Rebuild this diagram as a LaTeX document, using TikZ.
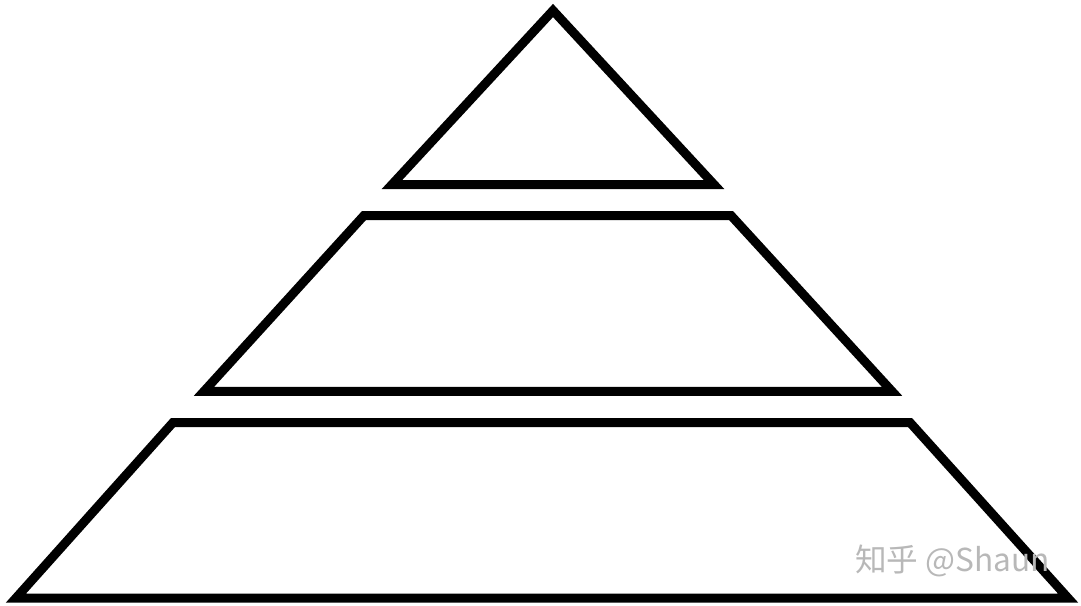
\documentclass[tikz,border=0pt]{standalone}
\usepackage{fontspec}
\newfontfamily\cjk{Noto Sans CJK SC}

\begin{document}
\begin{tikzpicture}[x=0.02cm, y=-0.02cm]
    %% The picture keeps the size of the reference, one unit is one pixel of it
        \useasboundingbox (0,0) rectangle (1081,605);
        \begin{scope}[line width=0.18cm, draw=black, line join=miter]
    %% top layer of the pyramid
        \draw (392,184.5) -- (553,10.5) -- (714,184.5) -- cycle;
    %% middle layer
        \draw (364,215.5) -- (731,215.5) -- (892,391.3) -- (204,391.3) -- cycle;
    %% bottom layer
        \draw (173,422.5) -- (910,422.5) -- (1068,598) -- (16,598) -- cycle;
        \end{scope}
    %% the mark in the corner
        \node[anchor=west, inner sep=0pt, text=black!28, font=\cjk\fontsize{18}{18}\selectfont] (mark) at (855,561) {知乎 @Shaun};
\end{tikzpicture}
\end{document}
